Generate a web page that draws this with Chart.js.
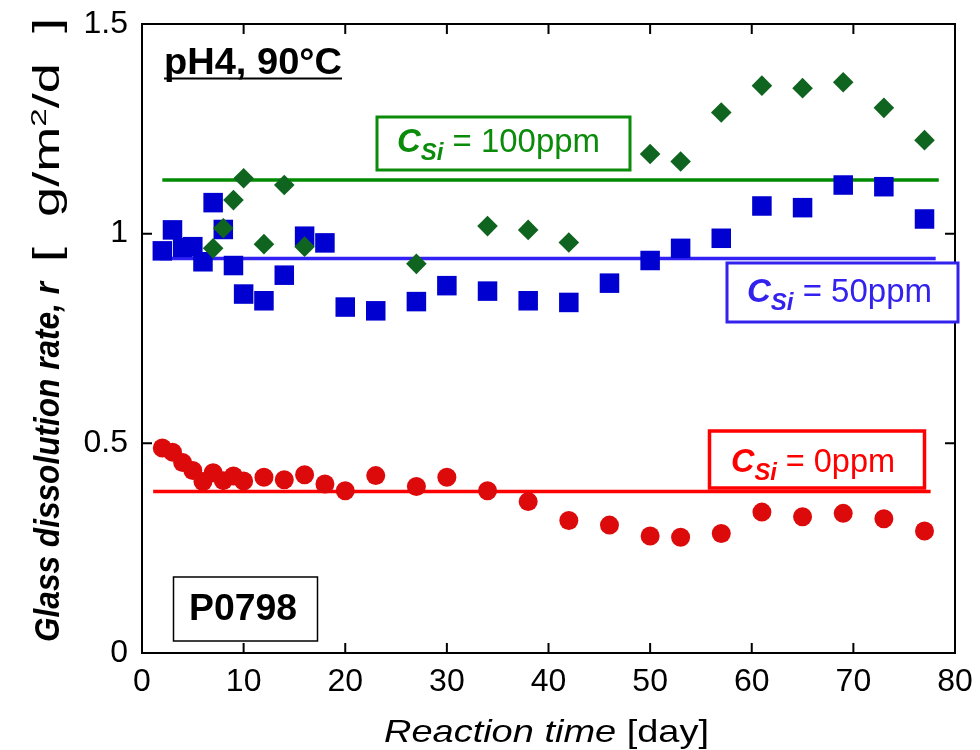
<!DOCTYPE html>
<html><head><meta charset="utf-8">
<script src="https://cdn.jsdelivr.net/npm/chart.js@4.4.0/dist/chart.umd.min.js"></script>
<style>html,body{margin:0;padding:0;background:#fff;}canvas{display:block;}</style>
</head><body>
<canvas id="c" width="980" height="750"></canvas>
<script>
// ---- data ----
const days = [2,3,4,5,6,7,8,9,10,12,14,16,18,20,23,27,30,34,38,42,46,50,53,57,61,65,69,73,77];
const rate0ppm = [0.489,0.479,0.454,0.435,0.409,0.430,0.411,0.422,0.410,0.419,0.413,0.425,0.403,0.387,0.423,0.397,0.419,0.387,0.361,0.316,0.305,0.279,0.276,0.285,0.336,0.325,0.333,0.320,0.291];
const rate50ppm = [0.959,1.009,0.967,0.969,0.933,1.074,1.010,0.924,0.856,0.840,0.901,0.994,0.978,0.825,0.816,0.838,0.876,0.863,0.840,0.836,0.882,0.936,0.965,0.989,1.066,1.062,1.116,1.112,1.035];
const days100ppm = [7,8,9,10,12,14,16,27,34,38,42,50,53,57,61,65,69,73,77];
const rate100ppm = [0.965,1.013,1.080,1.132,0.975,1.116,0.969,0.928,1.018,1.009,0.979,1.190,1.172,1.289,1.353,1.347,1.361,1.300,1.223];
// mean-rate lines for 0, 50, 100 ppm
const meanRates = [0.385, 0.941, 1.128];
const meanStart = [1.1, 1.8, 2.0];
const meanEnd = [77.6, 78.1, 78.4];
const seriesLabels = ['0ppm', '50ppm', '100ppm'];
const xTicks = [0,10,20,30,40,50,60,70,80];
const yTickValues = [0, 0.5, 1, 1.5];
const yTickLabels = ['0', '0.5', '1', '1.5'];

const FONT = "'Liberation Sans', Arial, Helvetica, sans-serif";
const colors = {
  red: '#dc0a0a', redLine: '#ff0000', redText: '#ff0000',
  blue: '#0000d0', blueLine: '#3322f5', blueText: '#3322ee',
  green: '#0f6420', greenLine: '#008a00', greenText: '#0a8c0a'
};

function pts(xs, ys){ return xs.map((v,i)=>({x:v, y:ys[i]})); }
function seg(i){ return [{x:meanStart[i], y:meanRates[i]}, {x:meanEnd[i], y:meanRates[i]}]; }

function drawRuns(ctx, runs, x, y, targetW){
  let w = 0;
  runs.forEach(r=>{ ctx.font = r.font; r.w = ctx.measureText(r.text).width; w += r.w; });
  const s = targetW ? targetW / w : 1;
  ctx.save();
  ctx.translate(x, y);
  ctx.scale(s, 1);
  ctx.textBaseline = 'alphabetic';
  ctx.textAlign = 'left';
  let cx = 0;
  runs.forEach(r=>{ ctx.font = r.font; ctx.fillStyle = r.color; ctx.fillText(r.text, cx, r.dy || 0); cx += r.w; });
  ctx.restore();
}

function labelBox(ctx, rect, color, lw, textX, baseline, targetW, label){
  ctx.save();
  ctx.fillStyle = '#fff';
  ctx.fillRect(rect[0], rect[1], rect[2], rect[3]);
  ctx.strokeStyle = color; ctx.lineWidth = lw;
  ctx.strokeRect(rect[0], rect[1], rect[2], rect[3]);
  ctx.restore();
  drawRuns(ctx, [
    {text:'C', font:`italic bold 33px ${FONT}`, color},
    {text:'Si', font:`italic bold 24px ${FONT}`, color, dy:8},
    {text:' = ' + label, font:`33px ${FONT}`, color}
  ], textX, baseline, targetW);
}

const overlay = {
  id: 'overlay',
  afterDatasetsDraw(chart){
    const {ctx, chartArea:a, scales:{x, y}} = chart;
    ctx.save();
    ctx.strokeStyle = '#000'; ctx.lineWidth = 2;
    ctx.strokeRect(a.left, a.top, a.right - a.left, a.bottom - a.top);
    ctx.beginPath();
    xTicks.forEach(v=>{
      const px = x.getPixelForValue(v);
      ctx.moveTo(px, a.bottom); ctx.lineTo(px, a.bottom - 10);
      ctx.moveTo(px, a.top); ctx.lineTo(px, a.top + 10);
    });
    yTickValues.forEach(v=>{
      const py = y.getPixelForValue(v);
      ctx.moveTo(a.left, py); ctx.lineTo(a.left + 10, py);
      ctx.moveTo(a.right, py); ctx.lineTo(a.right - 10, py);
    });
    ctx.stroke();
    ctx.restore();

    // label boxes
    labelBox(ctx, [377, 117, 253, 53], colors.greenText, 3, 397, 152, 203, seriesLabels[2]);
    labelBox(ctx, [727, 263, 231, 59], colors.blueText, 3, 747, 302, 185, seriesLabels[1]);
    labelBox(ctx, [709.5, 431, 215, 57], colors.redText, 3.5, 731, 472, 164, seriesLabels[0]);

    // condition label
    drawRuns(ctx, [{text:'pH4, 90°C', font:`bold 36px ${FONT}`, color:'#000'}], 164, 74, 178);
    ctx.save();
    ctx.strokeStyle = '#000'; ctx.lineWidth = 2;
    ctx.beginPath(); ctx.moveTo(164, 78.5); ctx.lineTo(342, 78.5); ctx.stroke();
    // sample box
    ctx.fillStyle = '#fff'; ctx.fillRect(173.5, 577, 144, 64);
    ctx.lineWidth = 1.5; ctx.strokeRect(173.5, 577, 144, 64);
    ctx.restore();
    drawRuns(ctx, [{text:'P0798', font:`bold 37px ${FONT}`, color:'#000'}], 189, 620, 108);

    // x-axis title
    drawRuns(ctx, [
      {text:'Reaction time', font:`italic 32px ${FONT}`, color:'#000'},
      {text:' [day]', font:`32px ${FONT}`, color:'#000'}
    ], 384, 742, 325);

    // y-axis title (rotated)
    ctx.save();
    ctx.translate(59, 642);
    ctx.rotate(-Math.PI/2);
    drawRuns(ctx, [{text:'Glass dissolution rate, r', font:`italic bold 35px ${FONT}`, color:'#000'}], 0, 0, 360);
    drawRuns(ctx, [
      {text:'[  g/m', font:`36px ${FONT}`, color:'#000'},
      {text:'2', font:`22px ${FONT}`, color:'#000', dy:-13},
      {text:'/d  ]', font:`36px ${FONT}`, color:'#000'}
    ], 380, 0, 244);
    ctx.restore();
  }
};

new Chart(document.getElementById('c'), {
  type: 'scatter',
  data: {
    datasets: [
      {label:'mean 0ppm', data: seg(0), showLine:true, borderColor:colors.redLine, borderWidth:3.5, pointRadius:0, order:10},
      {label:'mean 50ppm', data: seg(1), showLine:true, borderColor:colors.blueLine, borderWidth:3.5, pointRadius:0, order:11},
      {label:'mean 100ppm', data: seg(2), showLine:true, borderColor:colors.greenLine, borderWidth:3.5, pointRadius:0, order:12},
      {label:'0ppm', data: pts(days, rate0ppm), pointStyle:'circle', pointRadius:9.5, backgroundColor:colors.red, borderColor:colors.red, borderWidth:0, order:3},
      {label:'50ppm', data: pts(days, rate50ppm), pointStyle:'rect', pointRadius:13.8, backgroundColor:colors.blue, borderColor:colors.blue, borderWidth:0, order:2},
      {label:'100ppm', data: pts(days100ppm, rate100ppm), pointStyle:'rectRot', pointRadius:10.3, backgroundColor:colors.green, borderColor:colors.green, borderWidth:0, order:1}
    ]
  },
  options: {
    responsive: false,
    animation: false,
    layout: {padding: {left:0, top:24, right:25, bottom:0}},
    plugins: {legend:{display:false}, tooltip:{enabled:false}},
    scales: {
      x: {
        type:'linear', min:0, max:80,
        afterFit(s){ s.height = 97; s.paddingLeft = 0; s.paddingRight = 0; },
        afterBuildTicks(s){ s.ticks = xTicks.map(v=>({value:v})); },
        grid:{display:false, drawTicks:false}, border:{display:false},
        ticks:{color:'#000', font:{family:FONT, size:32}, padding:10, maxRotation:0, autoSkip:false}
      },
      y: {
        type:'linear', min:0, max:1.5,
        afterFit(s){ s.width = 142; s.paddingTop = 0; s.paddingBottom = 0; },
        afterBuildTicks(s){ s.ticks = yTickValues.map(v=>({value:v})); },
        grid:{display:false, drawTicks:false}, border:{display:false},
        ticks:{color:'#000', font:{family:FONT, size:32}, padding:14, autoSkip:false,
          callback:(v)=>{ const i = yTickValues.indexOf(v); return i >= 0 ? yTickLabels[i] : ''; }}
      }
    }
  },
  plugins: [overlay]
});
</script>
</body></html>
